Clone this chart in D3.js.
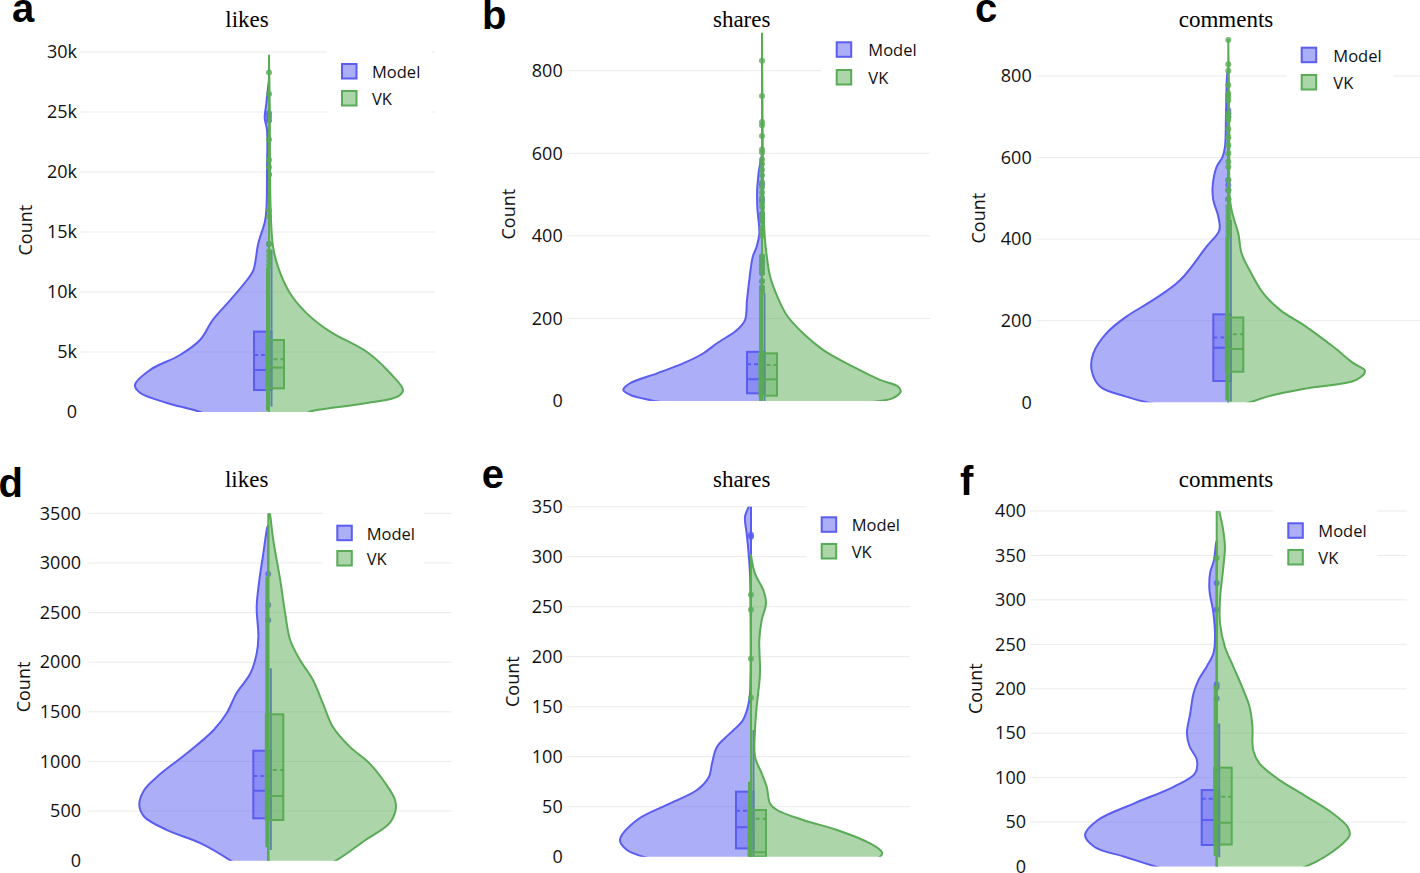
<!DOCTYPE html>
<html><head><meta charset="utf-8">
<script src="https://cdn.jsdelivr.net/npm/d3@7"></script>
<style>body{margin:0;background:#fff} svg{display:block}</style>
</head><body>
<svg id="chart" width="1420" height="873"></svg>
<script>
// ---------------- DATA ----------------
const seriesNames = ["Model", "VK"];
const panelLetters = ["a", "b", "c", "d", "e", "f"];
const panelTitles = ["likes", "shares", "comments", "likes", "shares", "comments"];

const tickValuesA = [0, 5000, 10000, 15000, 20000, 25000, 30000];
const tickLabelsA = ["0", "5k", "10k", "15k", "20k", "25k", "30k"];
const tickValuesB = [0, 200, 400, 600, 800];
const tickValuesC = [0, 200, 400, 600, 800];
const tickValuesD = [0, 500, 1000, 1500, 2000, 2500, 3000, 3500];
const tickValuesE = [0, 50, 100, 150, 200, 250, 300, 350];
const tickValuesF = [0, 50, 100, 150, 200, 250, 300, 350, 400];

// violin outlines: [value, relative density]
const modelViolinA = [[-3000,0],[-1500,30],[0,69],[750,102],[1600,129],[2250,134],[3500,119],[4750,89],[6000,69],[7700,56],[9300,39],[11000,22],[11800,15.7],[14060,10.7],[15900,4],[17000,2.5],[20000,2],[23500,2],[24500,4.3],[25500,3],[27000,1],[27700,0]];
const vkViolinA = [[-3000,0],[-1500,15],[0,40],[100,44],[750,98],[1300,129],[1830,134],[3250,121],[5000,98],[6700,61],[8200,38],[9900,21],[12100,9],[13800,4],[16000,2],[20000,1],[25000,0.8],[29700,0]];
const modelViolinB = [[-40,0],[-15,60],[0,108],[2.4,112],[15,132],[27,138.7],[43,132],[67,105],[91,79],[115,59],[140,45],[172,25],[196,17],[245,15],[293,12.7],[349,9.3],[374,5.3],[406,2.7],[470,4.7],[519,4.7],[584,1.3],[595,0]];
const vkViolinB = [[-30,0],[-10,80],[0,118],[7,131],[23,138.7],[35,136],[51,118],[83,91],[124,61],[164,41],[207,25],[255,15],[303,8],[352,4.7],[400,2.7],[480,1.3],[600,0.8],[890,0]];
const modelViolinC = [[-40,0],[-15,50],[0,82],[14,102],[38,128],[79,136.7],[120,135],[169,122],[210,102],[251,75],[300,48],[381,22],[422,9],[455,10],[496,15],[528,15.7],[577,11.7],[602,5.7],[627,3.3],[709,2.3],[806,1],[815,0]];
const vkViolinC = [[-40,0],[-15,8],[0,22],[18,45],[34,78],[55,128],[77,136.7],[96,125],[136,105],[185,78],[226,52],[267,35],[316,23],[365,13.3],[414,10],[455,5],[496,1.7],[666,1],[888,0]];
const modelViolinD = [[-300,0],[-100,25],[0,38],[175,68],[309,102],[443,125],[561,130],[712,125],[880,108],[1082,82],[1317,55],[1485,42],[1687,32],[1888,18],[2089,11.7],[2257,10],[2559,11.7],[2828,9],[3097,5],[3359,1],[3380,0]];
const vkViolinD = [[-300,0],[-100,45],[0,68],[209,98],[377,122],[511,128.3],[612,127.7],[780,118],[981,102],[1149,82],[1350,65],[1586,55],[1820,45],[2022,32],[2224,22],[2492,17],[2828,12],[3231,5],[3500,1.7],[3600,0]];
const modelViolinE = [[-30,0],[-10,60],[0,108],[6.7,124],[16.7,131],[36.7,114],[53.3,81],[66.7,54],[80,42],[93.3,39],[110,34],[123.3,21],[136.7,8],[156.7,1.7],[180,0.5],[250,0.5],[283,1],[306.7,2.7],[323,4.3],[340,6],[351,2],[360,0]];
const vkViolinE = [[-20,0],[-8,80],[0,129],[4.4,131],[13.3,119],[26.7,86],[36.7,52],[46.7,26],[53.3,19],[70,15.7],[83.3,10.7],[100,4],[126.7,4],[150,5.7],[183.3,9],[216.7,8.3],[236.7,10.7],[253.3,15],[266.7,12.3],[283,4],[301.7,0]];
const modelViolinF = [[-30,0],[-10,35],[0,62],[11,93],[22,123],[35.5,132.7],[52,120],[71,83],[90,43],[105,21.7],[120,20],[135,27.3],[150,30],[172,26.7],[195,23.3],[210,18.3],[225,10],[240,3.3],[255,1.7],[285,3.3],[311,7.3],[330,6.7],[345,2.7],[363.6,0.7],[366,0]];
const vkViolinF = [[-30,0],[-10,60],[0,90],[22,123],[35.5,134],[45,131.7],[60,116.7],[79,90],[97.5,63],[116,43],[131,36.7],[158,36],[180,33],[199,26.7],[225,16.7],[247,8.3],[274,3.3],[300,3.3],[337,6.7],[360,8.3],[382,6],[399,2.7],[410,0]];

// box stats: [q1, median, q3, mean, lower whisker, upper whisker]
const modelBoxA = [1830, 3500, 6700, 4750, 450, 13500];
const vkBoxA = [1970, 3700, 6000, 4400, 100, 12000];
const modelBoxB = [18.6, 52.5, 119, 88.9, 0, 261];
const vkBoxB = [12.9, 52.5, 115.5, 87, 0, 265];
const modelBoxC = [52.2, 134, 215.7, 159, 2, 447];
const vkBoxC = [75, 130.6, 208, 167, 4.5, 405];
const modelBoxD = [427, 705, 1108, 853, 108, 1938];
const vkBoxD = [410, 652, 1475, 914, 135, 2861];
const modelBoxE = [8.3, 29.4, 65, 46, 0, 126.7];
const vkBoxE = [0, 4.4, 46.7, 38, 0, 75];
const modelBoxF = [24.2, 52.3, 86, 76.2, 10.3, 161];
const vkBoxF = [24.7, 49.3, 111.2, 78.6, 11.8, 204];

// outlier points
const modelPointsA = [14000, 19800, 24300, 24600, 24900];
const vkPointsA = [12200, 12600, 13000, 13400, 14000, 16300, 16800, 20400, 21000, 22700, 26500, 28300];
const modelPointsB = [265, 275, 290, 310, 320, 330, 340, 350, 437, 445, 453, 487, 525];
const vkPointsB = [265, 275, 290, 310, 320, 330, 340, 350, 400, 410, 420, 437, 445, 453, 470, 480, 492, 505, 518, 530, 547, 560, 574, 585, 602, 609, 642, 668, 676, 739, 824];
const modelPointsC = [498, 520, 533, 545, 700, 708, 716];
const vkPointsC = [410, 420, 430, 440, 450, 460, 470, 480, 498, 520, 545, 577, 590, 610, 630, 650, 670, 692, 700, 708, 740, 750, 757, 778, 813, 829, 888];
const modelPointsD = [2422, 2576, 2888];
const vkPointsD = [];
const modelPointsE = [320, 322];
const vkPointsE = [159, 198, 247, 262];
const modelPointsF = [189, 201.5, 205, 289, 319];
const vkPointsF = [347];

// ---------------- LAYOUT (positions / styles) ----------------
const layout = [
  {cx:269, halfW:134, y0:412, yTop:52, tickTop:30000, yMax:30300, gridX0:80, gridX1:435, tickRight:77, countX:25, titleX:247, titleY:27, letterX:12, letterY:22, legX:342, legY:64, legGap:27, legTextX:372, legBg:[327,48,105,66]},
  {cx:762, halfW:138.7, y0:401, yTop:70.7, tickTop:800, yMax:905, gridX0:566.7, gridX1:930, tickRight:562.7, countX:508, titleX:741.7, titleY:27, letterX:482, letterY:29, legX:836.7, legY:42.3, legGap:27.7, legTextX:868.3, legBg:[820.7,28,112,66]},
  {cx:1228.3, halfW:136.7, y0:402.3, yTop:76, tickTop:800, yMax:903, gridX0:1036.7, gridX1:1420, tickRight:1031.7, countX:978, titleX:1226, titleY:27, letterX:975, letterY:22, legX:1301.7, legY:47.7, legGap:27.3, legTextX:1333.3, legBg:[1286.7,33,106.3,67]},
  {cx:268.3, halfW:129, y0:860.7, yTop:513.3, tickTop:3500, yMax:3500, gridX0:88.3, gridX1:451.7, tickRight:81, countX:23.3, titleX:246.7, titleY:486.7, letterX:-1.5, letterY:497, legX:337.3, legY:525.7, legGap:25.3, legTextX:366.7, legBg:[322.7,511,101.3,64]},
  {cx:751, halfW:131, y0:856.7, yTop:506.7, tickTop:350, yMax:350, gridX0:566.7, gridX1:910, tickRight:562.7, countX:511.7, titleX:741.7, titleY:486.7, letterX:481.7, letterY:488.3, legX:821.7, legY:517.3, legGap:26.7, legTextX:851.7, legBg:[806.7,503,105,65]},
  {cx:1216.7, halfW:133, y0:866.5, yTop:511, tickTop:400, yMax:400, gridX0:1030, gridX1:1406.7, tickRight:1026, countX:975, titleX:1226, titleY:486.7, letterX:960, letterY:495, legX:1288.3, legY:523.3, legGap:26.7, legTextX:1318.3, legBg:[1273.3,509,104,65]}
];

const panels = [
  {ticks:tickValuesA, labels:tickLabelsA, violins:[modelViolinA, vkViolinA], boxes:[modelBoxA, vkBoxA], points:[modelPointsA, vkPointsA]},
  {ticks:tickValuesB, labels:tickValuesB.map(String), violins:[modelViolinB, vkViolinB], boxes:[modelBoxB, vkBoxB], points:[modelPointsB, vkPointsB]},
  {ticks:tickValuesC, labels:tickValuesC.map(String), violins:[modelViolinC, vkViolinC], boxes:[modelBoxC, vkBoxC], points:[modelPointsC, vkPointsC]},
  {ticks:tickValuesD, labels:tickValuesD.map(String), violins:[modelViolinD, vkViolinD], boxes:[modelBoxD, vkBoxD], points:[modelPointsD, vkPointsD]},
  {ticks:tickValuesE, labels:tickValuesE.map(String), violins:[modelViolinE, vkViolinE], boxes:[modelBoxE, vkBoxE], points:[modelPointsE, vkPointsE]},
  {ticks:tickValuesF, labels:tickValuesF.map(String), violins:[modelViolinF, vkViolinF], boxes:[modelBoxF, vkBoxF], points:[modelPointsF, vkPointsF]}
];

const lineColors = ["#5a5df0", "#59ab56"];
const sansFont = "'Open Sans', 'Liberation Sans', sans-serif";

const svg = d3.select("#chart");
const defs = svg.append("defs");

panels.forEach((p, i) => {
  const L = layout[i];
  const y = d3.scaleLinear().domain([0, L.tickTop]).range([L.y0, L.yTop]);
  const g = svg.append("g");

  // gridlines
  g.append("g").selectAll("line")
    .data(p.ticks.filter(t => t > 0))
    .join("line")
    .attr("x1", L.gridX0).attr("x2", L.gridX1)
    .attr("y1", d => y(d)).attr("y2", d => y(d))
    .attr("stroke", "#ebebeb").attr("stroke-width", 1);

  // legend background
  g.append("rect")
    .attr("x", L.legBg[0]).attr("y", L.legBg[1])
    .attr("width", L.legBg[2]).attr("height", L.legBg[3])
    .attr("fill", "#fff");

  // y axis
  const axis = d3.axisLeft(y).tickValues(p.ticks)
    .tickFormat((d, j) => p.labels[j]).tickSize(0).tickPadding(0);
  const ag = g.append("g").attr("transform", `translate(${L.tickRight},0)`).call(axis);
  ag.select(".domain").remove();
  ag.selectAll("text").attr("font-family", sansFont).attr("font-size", 18).attr("fill", "#111");

  // axis title
  g.append("text")
    .attr("transform", `translate(${L.countX},${(L.y0 + y(L.yMax)) / 2}) rotate(-90)`)
    .attr("text-anchor", "middle").attr("dominant-baseline", "central")
    .attr("font-family", sansFont).attr("font-size", 18).attr("fill", "#111")
    .text("Count");

  // panel title
  g.append("text")
    .attr("x", L.titleX).attr("y", L.titleY)
    .attr("text-anchor", "middle")
    .attr("font-family", "'Liberation Serif', 'Times New Roman', serif")
    .attr("font-size", 23).attr("fill", "#000")
    .text(panelTitles[i]);

  // panel letter
  g.append("text")
    .attr("x", L.letterX).attr("y", L.letterY)
    .attr("font-family", "'Liberation Sans', Arial, sans-serif")
    .attr("font-weight", "bold").attr("font-size", 40).attr("fill", "#000")
    .text(panelLetters[i]);

  // legend
  seriesNames.forEach((name, k) => {
    const ly = L.legY + k * L.legGap;
    g.append("rect")
      .attr("x", L.legX).attr("y", ly).attr("width", 14.5).attr("height", 14.5)
      .attr("fill", lineColors[k]).attr("fill-opacity", 0.5)
      .attr("stroke", lineColors[k]).attr("stroke-width", 2);
    g.append("text")
      .attr("x", L.legTextX).attr("y", ly + 7.5)
      .attr("dominant-baseline", "central")
      .attr("font-family", sansFont).attr("font-size", 16.5).attr("fill", "#111")
      .text(name);
  });

  // clip
  const clipId = "clip" + i;
  defs.append("clipPath").attr("id", clipId).append("rect")
    .attr("x", L.gridX0).attr("y", y(L.yMax))
    .attr("width", L.gridX1 - L.gridX0).attr("height", L.y0 - y(L.yMax));

  const plot = g.append("g").attr("clip-path", `url(#${clipId})`);
  const maxDens = d3.max(p.violins.flat(), d => d[1]);
  const dens = d3.scaleLinear().domain([0, maxDens]).range([0, L.halfW]);

  p.violins.forEach((v, k) => {
    const sign = k === 0 ? -1 : 1;
    const col = lineColors[k];
    const area = d3.area()
      .y(d => y(d[0]))
      .x0(L.cx)
      .x1(d => L.cx + sign * dens(d[1]))
      .curve(d3.curveCatmullRom.alpha(0.5));
    plot.append("path").datum(v)
      .attr("d", area)
      .attr("fill", col).attr("fill-opacity", 0.5)
      .attr("stroke", col).attr("stroke-width", 2).attr("stroke-linejoin", "round");

    // box
    const b = p.boxes[k];
    const bx0 = k === 0 ? L.cx - 15 : L.cx - 2.5;
    const bx1 = k === 0 ? L.cx + 2.5 : L.cx + 15;
    const wx = k === 0 ? L.cx + 2.5 : L.cx - 2;
    plot.append("line")
      .attr("x1", wx).attr("x2", wx).attr("y1", y(b[4])).attr("y2", y(b[5]))
      .attr("stroke", col).attr("stroke-width", 2);
    plot.append("rect")
      .attr("x", bx0).attr("width", bx1 - bx0)
      .attr("y", y(b[2])).attr("height", y(b[0]) - y(b[2]))
      .attr("fill", col).attr("fill-opacity", 0.4)
      .attr("stroke", col).attr("stroke-width", 2);
    plot.append("line")
      .attr("x1", bx0).attr("x2", bx1).attr("y1", y(b[1])).attr("y2", y(b[1]))
      .attr("stroke", col).attr("stroke-width", 2);
    plot.append("line")
      .attr("x1", bx0).attr("x2", bx1).attr("y1", y(b[3])).attr("y2", y(b[3]))
      .attr("stroke", col).attr("stroke-width", 2).attr("stroke-dasharray", "4,3");

    // points
    plot.append("g").selectAll("circle")
      .data(p.points[k])
      .join("circle")
      .attr("cx", L.cx).attr("cy", d => y(d)).attr("r", 3)
      .attr("fill", col).attr("fill-opacity", 0.8);
  });
});
</script>
</body></html>
